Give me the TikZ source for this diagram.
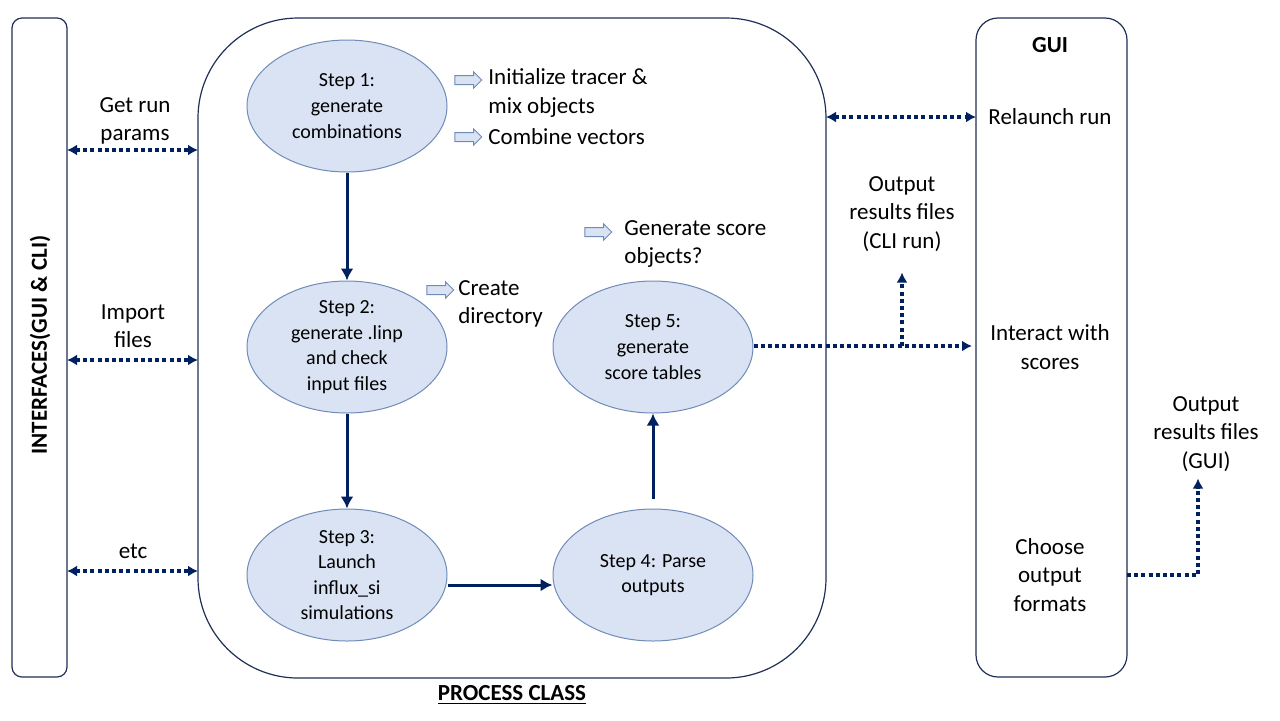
\documentclass[tikz,border=0pt]{standalone}
\usepackage{fontspec}
\setmainfont{Carlito}
\usetikzlibrary{calc,arrows.meta,shapes.geometric,shapes.arrows,positioning}
\definecolor{navy}{HTML}{002060}
\definecolor{stepfill}{HTML}{DAE3F3}
\definecolor{stepline}{HTML}{6F8BB8}
\definecolor{frameline}{HTML}{1F2F55}
\tikzset{
  framebox/.style={draw=frameline,line width=0.6pt,inner sep=0pt,outer sep=0pt},
  stepnode/.style={ellipse,draw=stepline,fill=stepfill,line width=0.5pt,minimum width=100pt,
    minimum height=66pt,inner sep=0pt,align=center,font=\fontsize{10}{12.8}\selectfont},
  flow/.style={draw=navy,line width=1.5pt,-{Latex[length=6pt,width=6.5pt]}},
  dots/.style={draw=navy,line width=1.9pt,dash pattern=on 2pt off 1.6pt},
  dtip/.tip={Latex[length=5pt,width=5.5pt]},
  lbl/.style={align=center,font=\fontsize{11.5}{14.2}\selectfont},
  note/.style={align=left,anchor=west,inner sep=0pt,font=\fontsize{11.5}{14.2}\selectfont},
  hint/.style={single arrow,draw=stepline,fill=stepfill,line width=0.5pt,minimum height=13.5pt,
    inner xsep=0pt,inner ysep=2pt,single arrow head extend=1.8pt}
}
\begin{document}
\begin{tikzpicture}[x=0.5pt,y=-0.5pt]
  \useasboundingbox (0,0) rectangle (1280,720);
  % frames
  \node[framebox,rounded corners=5pt,minimum width=27.5pt,minimum height=329.5pt](ifbox)at(39.5,347.5){};
  \node[rotate=90,font=\bfseries\fontsize{11.5}{14}\selectfont](ifc)at(40,345){INTERFACES(GUI \& CLI)};
  \node[framebox,rounded corners=50pt,minimum width=314pt,minimum height=330pt](procbox)at(512,348){};
  \node[font=\bfseries\fontsize{11.5}{14}\selectfont](pc)at(512,695){\underline{PROCESS CLASS}};
  \node[framebox,rounded corners=11pt,minimum width=75.5pt,minimum height=329.5pt](guibox)at(1051.5,347.5){};
  \node[lbl,font=\bfseries\fontsize{11.5}{14}\selectfont](gui)at(1050,45){GUI};
  \node[lbl](relaunch)at(1050,117){Relaunch run};
  \node[lbl](interact)at(1050,347){Interact with\\scores};
  \node[lbl](fmt)at(1050,575){Choose\\output\\formats};

  % steps
  \node[stepnode](s1)at(347,106){Step 1:\\generate\\combinations};
  \node[stepnode](s2)at(347,347){Step 2:\\generate .linp\\and check\\input files};
  \node[stepnode](s3)at(347,575){Step 3:\\Launch\\influx\_si\\simulations};
  \node[stepnode](s4)at(653,575){Step 4: Parse\\outputs};
  \node[stepnode](s5)at(653,347){Step 5:\\generate\\score tables};
  \draw[flow](s1)--(s2);
  \draw[flow](s2)--(s3);
  \draw[flow]([yshift=-5pt]s3.east)--([yshift=-5pt]s4.west);
  \draw[flow,shorten <=5pt](s4)--(s5);

  % side notes
  \node[hint](h1)at(466,80){};
  \node[note](n1)at(488,93){Initialize tracer \&\\mix objects};
  \node[hint](h2)at(466,137){};
  \node[note](n2)at(488,137){Combine vectors};
  \node[hint](h3)at(438,290){};
  \node[note](n3)at(458,304){Create\\directory};
  \node[hint](h4)at(596,232){};
  \node[note](n4)at(624,244){Generate score\\objects?};

  % interfaces
  \node[lbl](getrun)at(135,121){Get run\\params};
  \node[lbl](import)at(133,326){Import\\files};
  \node[lbl](etc)at(133,551){etc};
  \draw[dots,dtip-dtip](ifbox.east|-0,150)--(procbox.west|-0,150);
  \draw[dots,dtip-dtip](ifbox.east|-0,360)--(procbox.west|-0,360);
  \draw[dots,dtip-dtip](ifbox.east|-0,571)--(procbox.west|-0,571);
  \draw[dots,dtip-dtip](procbox.east|-relaunch)--(guibox.west|-relaunch);

  % outputs
  \node[lbl](cli)at(902,214){Output\\results files\\(CLI run)};
  \coordinate(br)at(902,346);
  \draw[dots,-dtip](s5.east|-br)--([xshift=-2pt]guibox.west|-br);
  \draw[dots,-dtip](br)--([yshift=-7pt]cli.south);
  \node[lbl](gout)at(1206,434){Output\\results files\\(GUI)};
  \draw[dots,-dtip](guibox.east|-fmt)-|([xshift=-4pt]gout.south);
\end{tikzpicture}
\end{document}
